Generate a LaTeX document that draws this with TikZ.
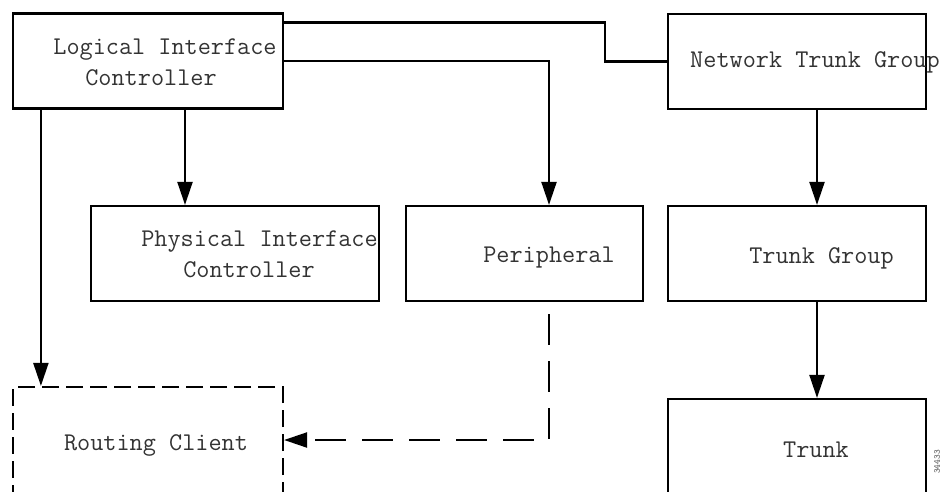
\documentclass[tikz,border=0pt]{standalone}
\usepackage{fontspec}
\usetikzlibrary{arrows.meta}
\tikzset{
  box/.style={draw, line width=2.2pt, minimum width=#1, minimum height=95pt, inner sep=0pt},
  dbox/.style={box=#1, dash pattern=on 17pt off 7pt},
  lbl/.style={font=\ttfamily\fontsize{25.5}{28}\selectfont, text=black!80, inner sep=0pt},
  arr/.style={line width=2.2pt, -{Triangle[length=23pt,width=15pt]}},
}
\begin{document}
\begin{tikzpicture}[x=1pt, y=-1pt]
  \useasboundingbox (0,0) rectangle (946,491);
  \node [box=270pt] (lic) at (148,61) {};
  \node [box=258pt] (ntg) at (797,61.5) {};
  \node [box=288pt] (pic) at (235,253.5) {};
  \node [box=237pt] (per) at (524.5,253.5) {};
  \node [box=258pt] (tg) at (797,253.5) {};
  \node [box=258pt, minimum height=112pt] (trunk) at (797,455) {};
  \node [dbox=270pt, minimum height=106pt] (rc) at (148,440) {};
  \node [lbl] (lic-t1) at (165,50) {Logical Interface};
  \node [lbl] (lic-t2) at (151,78) {Controller};
  \node [lbl] (ntg-t) at (815,62) {Network Trunk Group};
  \node [lbl] (pic-t1) at (259.5,242) {Physical Interface};
  \node [lbl] (pic-t2) at (249,270) {Controller};
  \node [lbl] (per-t) at (549,258) {Peripheral};
  \node [lbl] (tg-t) at (821.5,258) {Trunk Group};
  \node [lbl] (trunk-t) at (816,450) {Trunk};
  \node [lbl] (rc-t) at (156,445) {Routing Client};
  \node [font=\ttfamily\fontsize{9}{9}\selectfont, text=black!70, rotate=90] (fig) at (937,462) {34433};
  \draw [line width=2.2pt] ([yshift=-10pt]lic.north east) -- ++(321,0) |- (ntg.west);
  \draw [arr] (lic.east) -| ([xshift=24.5pt]per.north);
  \draw [arr] ([xshift=-50pt]pic.north |- lic.south) -- ([xshift=-50pt]pic.north);
  \draw [arr] ([xshift=29pt]lic.south west) -- ([xshift=29pt]rc.north west);
  \draw [arr] ([xshift=20pt]ntg.south) -- ([xshift=20pt]tg.north);
  \draw [arr] ([xshift=20pt]tg.south) -- ([xshift=20pt]trunk.north);
  \draw [arr, dash pattern=on 31pt off 16pt] ([xshift=24.5pt,yshift=-12pt]per.south) |- (rc.east);
\end{tikzpicture}
\end{document}
